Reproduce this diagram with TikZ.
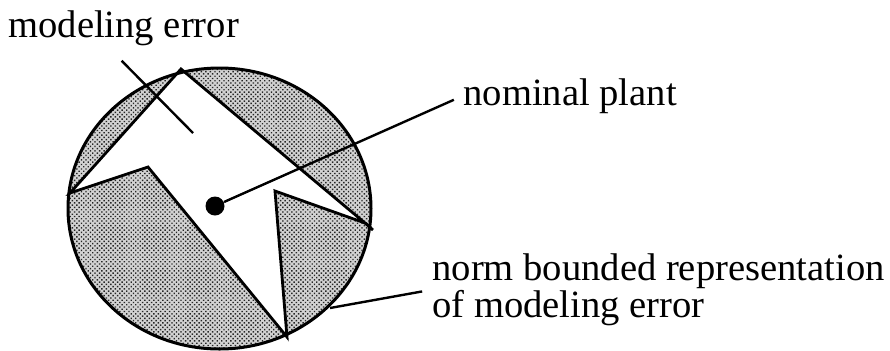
\documentclass[tikz,border=0pt]{standalone}
\usepackage{fontspec}
\setmainfont{Liberation Serif}
\usepackage{tikz}
\usetikzlibrary{positioning,patterns.meta}
\definecolor{errshade}{HTML}{D2D2D2}

\begin{document}
\begin{tikzpicture}[
            x=0.5pt, y=-0.5pt,
            every node/.style={font=\fontsize{19.3}{15.3}\selectfont, inner sep=0pt},
            edge/.style={draw=black, line width=1.4pt, line join=miter},
            rim/.style={draw=black, line width=1.5pt},
            leader/.style={draw=black, line width=1.2pt},
            shade/.style={fill=errshade, pattern={Dots[distance=1.6pt, angle=45, radius=0.5pt]}, pattern color=black!85},
            plantdot/.style={circle, fill=black, inner sep=0pt, minimum size=9.5pt},
            lab/.style={anchor=base west}
        ]
        \useasboundingbox (0,0) rectangle (890,350);

        \def\Uregion{(181,69) -- (365,223) -- (275,191) -- (287,337) -- (148,167) -- (70,193) -- cycle}

        % =============== bereich der unsicherheit ===============
        \fill[errshade] (219.5,208.5) ellipse [x radius=151.5, y radius=140.5];
        \fill[shade] (219.5,208.5) ellipse [x radius=151.5, y radius=140.5];
        \begin{scope}
            \clip (219.5,208.5) ellipse [x radius=151.5, y radius=140.5];
            \fill[white] \Uregion;
        \end{scope}
        \draw[edge] \Uregion;
        \draw[edge] (365,223) -- (373,230);
        \draw[rim] (219.5,208.5) ellipse [x radius=151.5, y radius=140.5];

        % =============== nominales modell ===============
        \node[plantdot] (dot) at (215,206) {};

        % =============== beschriftungen ===============
        \node[lab] (errlab) at (8,37) {modeling error};
        \node[lab] (plantlab) at (463,105) {nominal plant};
        \node[anchor=north west, align=left] (normlab) at (432,253)
        {norm bounded representation\\of modeling error};

        \coordinate (errtip) at (193,133);
        \coordinate (rimpt) at (330,308);

        \draw[leader] ([xshift=-1pt, yshift=-7.5pt]errlab.south) -- (errtip);
        \draw[leader, shorten >=5pt] (dot) -- (plantlab.west);
        \draw[leader, shorten >=5pt] (rimpt) -- (normlab.west);

    \end{tikzpicture}
\end{document}
